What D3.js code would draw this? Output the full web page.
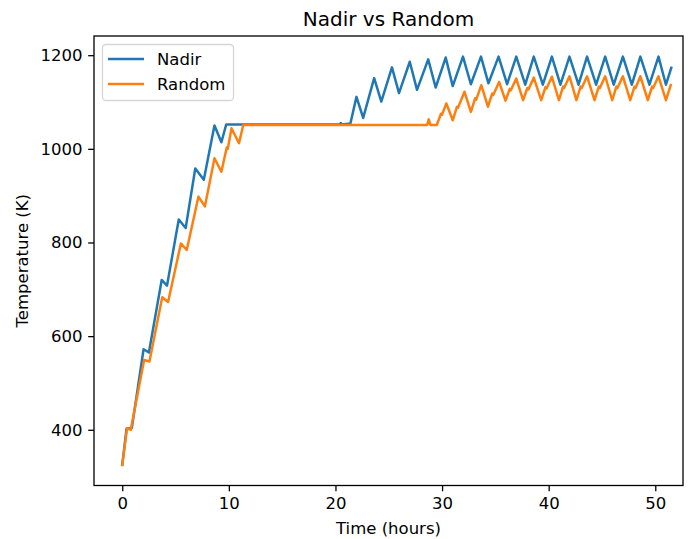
<!DOCTYPE html>
<meta charset="utf-8">
<script src="https://d3js.org/d3.v7.min.js"></script>
<style>
  body { margin: 0; background: #fff; }
  text { font-family: "DejaVu Sans", sans-serif; fill: #000; }
</style>
<body>
<div id="chart"></div>
<script>
// Nadir pointing: [time (hours), temperature (K)]
var nadir = [
  [0, 325], [0.4, 402], [0.9, 404], [2.0, 572], [2.5, 565], [3.7, 720], [4.2, 708],
  [5.3, 849], [5.95, 831], [6.85, 958], [7.65, 934], [8.65, 1050], [9.3, 1014],
  [9.75, 1052], [20.4, 1052], [20.5, 1055], [20.6, 1052], [21.4, 1054],
  [21.97, 1111], [22.6, 1066], [23.63, 1151], [24.3, 1101], [25.3, 1174], [25.96, 1119],
  [26.97, 1186], [27.65, 1126], [28.7, 1191], [29.4, 1131], [30.34, 1195], [31.0, 1134],
  [31.96, 1197], [32.7, 1138], [33.65, 1197], [34.35, 1140], [35.3, 1197], [36.1, 1138],
  [36.96, 1197], [37.8, 1137], [38.6, 1197], [39.45, 1137], [40.3, 1197], [41.1, 1137],
  [41.95, 1197], [42.8, 1137], [43.6, 1197], [44.45, 1137], [45.3, 1197], [46.1, 1137],
  [46.96, 1197], [47.8, 1137], [48.6, 1197], [49.45, 1137], [50.3, 1197], [51.0, 1137],
  [51.5, 1173]
];

// Random pointing
var random = [
  [0, 325], [0.45, 403], [0.8, 400], [2.05, 549], [2.55, 546], [3.75, 683], [4.3, 673],
  [5.5, 798], [6.05, 784], [7.15, 898], [7.75, 877], [8.65, 980], [9.3, 951],
  [9.8, 1003], [9.9, 1000], [10.25, 1044], [10.95, 1012], [11.35, 1051],
  [28.6, 1051], [28.75, 1063], [28.9, 1051], [29.5, 1051],
  [29.9, 1075], [30.0, 1073], [30.4, 1097], [31.0, 1061],
  [31.4, 1090], [31.5, 1088], [32.1, 1122], [32.7, 1079],
  [33.1, 1108], [33.2, 1105], [33.68, 1136], [34.3, 1090],
  [34.7, 1118], [34.8, 1115], [35.35, 1143], [35.95, 1103],
  [36.35, 1128], [36.45, 1125], [36.96, 1150], [37.6, 1104],
  [38.0, 1130], [38.1, 1127], [38.6, 1152], [39.3, 1104],
  [39.7, 1132], [39.8, 1129], [40.3, 1154], [40.96, 1104],
  [41.35, 1133], [41.45, 1130], [41.95, 1155], [42.6, 1104],
  [43.0, 1133], [43.1, 1130], [43.6, 1155], [44.3, 1104],
  [44.7, 1133], [44.8, 1130], [45.3, 1155], [45.96, 1104],
  [46.35, 1133], [46.45, 1130], [46.96, 1155], [47.65, 1104],
  [48.05, 1133], [48.15, 1130], [48.6, 1155], [49.3, 1104],
  [49.7, 1133], [49.8, 1130], [50.3, 1155], [51.0, 1104],
  [51.45, 1136]
];

var seriesNames = ["Nadir", "Random"];
var seriesColors = ["#1f77b4", "#ff7f0e"];
var xTicks = [0, 10, 20, 30, 40, 50];
var yTicks = [400, 600, 800, 1000, 1200];

var W = 692, H = 539;
var pLeft = 94, pRight = 683, pTop = 36, pBottom = 485.5;

var svg = d3.select("#chart").append("svg")
  .attr("width", W)
  .attr("height", H);

var x = d3.scaleLinear().domain([-2.65, 52.6]).range([pLeft, pRight]);
var y = d3.scaleLinear().domain([281, 1241]).range([pBottom, pTop]);

// lines
var line = d3.line()
  .x(function(d) { return x(d[0]); })
  .y(function(d) { return y(d[1]); });

svg.append("defs").append("clipPath").attr("id", "clip")
  .append("rect")
  .attr("x", pLeft).attr("y", pTop)
  .attr("width", pRight - pLeft).attr("height", pBottom - pTop);

var plot = svg.append("g").attr("clip-path", "url(#clip)");

[nadir, random].forEach(function(s, i) {
  plot.append("path")
    .datum(s)
    .attr("d", line)
    .attr("fill", "none")
    .attr("stroke", seriesColors[i])
    .attr("stroke-width", 2.5)
    .attr("stroke-linejoin", "round")
    .attr("stroke-linecap", "square");
});

// axes
var xAxis = svg.append("g")
  .attr("transform", "translate(0," + pBottom + ")")
  .call(d3.axisBottom(x).tickValues(xTicks).tickSize(5.8).tickPadding(5.8));

var yAxis = svg.append("g")
  .attr("transform", "translate(" + pLeft + ",0)")
  .call(d3.axisLeft(y).tickValues(yTicks).tickFormat(d3.format("d"))
    .tickSize(5.8).tickPadding(5.8));

[xAxis, yAxis].forEach(function(a) {
  a.select(".domain").remove();
  a.selectAll("line").attr("stroke", "#000").attr("stroke-width", 1.3);
  a.selectAll("text")
    .style("font-family", "DejaVu Sans, sans-serif")
    .style("font-size", "16.5px")
    .attr("fill", "#000");
});

// frame
svg.append("rect")
  .attr("x", pLeft).attr("y", pTop)
  .attr("width", pRight - pLeft).attr("height", pBottom - pTop)
  .attr("fill", "none")
  .attr("stroke", "#000")
  .attr("stroke-width", 1.3);

// title and labels
svg.append("text")
  .attr("x", (pLeft + pRight) / 2)
  .attr("y", 26)
  .attr("text-anchor", "middle")
  .style("font-size", "20px")
  .text("Nadir vs Random");

svg.append("text")
  .attr("x", (pLeft + pRight) / 2)
  .attr("y", 534)
  .attr("text-anchor", "middle")
  .style("font-size", "16.5px")
  .text("Time (hours)");

svg.append("text")
  .attr("transform", "translate(28," + ((pTop + pBottom) / 2) + ") rotate(-90)")
  .attr("text-anchor", "middle")
  .style("font-size", "16.5px")
  .text("Temperature (K)");

// legend
var legend = svg.append("g");
legend.append("rect")
  .attr("x", 102.5).attr("y", 44.5)
  .attr("width", 131).attr("height", 56)
  .attr("rx", 3.5)
  .attr("fill", "#fff")
  .attr("fill-opacity", 0.8)
  .attr("stroke", "#d6d6d6")
  .attr("stroke-width", 1.3);

seriesNames.forEach(function(name, i) {
  var ly = 59 + i * 25;
  legend.append("line")
    .attr("x1", 108).attr("x2", 144)
    .attr("y1", ly).attr("y2", ly)
    .attr("stroke", seriesColors[i])
    .attr("stroke-width", 2.5);
  legend.append("text")
    .attr("x", 157)
    .attr("y", ly + 6)
    .style("font-size", "16.5px")
    .text(name);
});
</script>
</body>
</html>
